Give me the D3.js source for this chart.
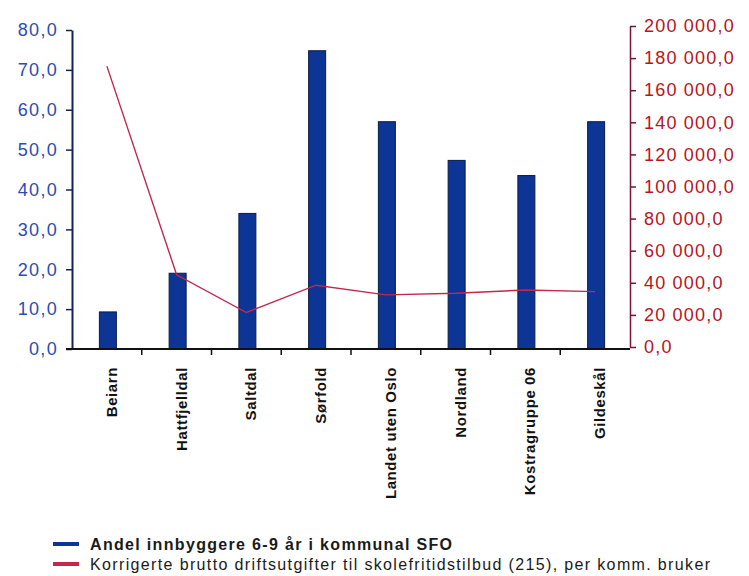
<!DOCTYPE html>
<html><head><meta charset="utf-8">
<script src="https://cdn.jsdelivr.net/npm/d3@7"></script>
<style>body{margin:0;background:#fff}svg{display:block}</style>
</head><body>
<svg id="c" width="749" height="576"></svg>
<script>
const categories = ["Beiarn","Hattfjelldal","Saltdal","Sørfold","Landet uten Oslo","Nordland","Kostragruppe 06","Gildeskål"];
const sfoShare = [9.3, 19.0, 34.0, 74.8, 57.0, 47.3, 43.5, 57.0];
const costPerUser = [175000, 45000, 21500, 38500, 32500, 33500, 35500, 34500];
const leftTicks = [0,10,20,30,40,50,60,70,80];
const rightTicks = [0,20000,40000,60000,80000,100000,120000,140000,160000,180000,200000];
const legendLabels = ["Andel innbyggere 6-9 år i kommunal SFO","Korrigerte brutto driftsutgifter til skolefritidstilbud (215), per komm. bruker"];

const svg = d3.select("#c");
const L = 72, R = 630, T = 30, B = 349;
const x = d3.scaleBand().domain(categories).range([L, R]);
const yL = d3.scaleLinear().domain([0, 80]).range([B, T]);
const yR = d3.scaleLinear().domain([0, 200000]).range([B - 2, 26]);
const fmtL = d => d3.format(".1f")(d).replace(".", ",");
const fmtR = d => d3.format(",.1f")(d).replace(/,/g, " ").replace(".", ",");
const font = "Arial, 'Liberation Sans', sans-serif";

// bars
const bw = 17;
svg.append("g").selectAll("rect").data(categories).join("rect")
  .attr("x", d => x(d) + x.bandwidth()/2 - bw/2 + 1)
  .attr("y", (d,i) => yL(sfoShare[i]))
  .attr("width", bw)
  .attr("height", (d,i) => B - yL(sfoShare[i]))
  .attr("fill", "#0c3596").attr("stroke", "#0a1c4a").attr("stroke-width", 1);

// line
const line = d3.line().x((d,i) => x(categories[i]) + x.bandwidth()/2).y(d => yR(d));
svg.append("path").datum(costPerUser).attr("d", line)
  .attr("fill", "none").attr("stroke", "#c4284a").attr("stroke-width", 1.4);

// left axis
const gl = svg.append("g").attr("transform", `translate(${L},0)`)
  .call(d3.axisLeft(yL).tickValues(leftTicks).tickFormat(fmtL).tickSize(6).tickSizeOuter(0));
gl.select(".domain").attr("stroke", "#14225a").attr("stroke-width", 2);
gl.selectAll(".tick line").attr("stroke", "#14225a").attr("stroke-width", 1.5);
gl.selectAll("text").attr("fill", "#2c4cb4").attr("font-family", font)
  .attr("font-size", 18).attr("letter-spacing", 1.3).attr("x", -14);

// right axis
const gr = svg.append("g").attr("transform", `translate(${R},0)`)
  .call(d3.axisRight(yR).tickValues(rightTicks).tickFormat(fmtR).tickSize(6).tickSizeOuter(0));
gr.select(".domain").attr("stroke", "#7a1430").attr("stroke-width", 1.5);
gr.selectAll(".tick line").attr("stroke", "#7a1430").attr("stroke-width", 1.5);
gr.selectAll("text").attr("fill", "#b8141c").attr("font-family", font)
  .attr("font-size", 18).attr("letter-spacing", 1.2).attr("x", 14);

// x axis
const gx = svg.append("g").attr("transform", `translate(0,${B})`);
gx.append("line").attr("x1", L - 6).attr("x2", R).attr("stroke", "#111").attr("stroke-width", 2);
gx.selectAll("line.t").data(categories.slice(1)).join("line").attr("class","t")
  .attr("x1", d => x(d)).attr("x2", d => x(d)).attr("y1", 0).attr("y2", 6)
  .attr("stroke", "#111").attr("stroke-width", 1.5);
gx.selectAll("text").data(categories).join("text")
  .attr("transform", d => `translate(${x(d) + x.bandwidth()/2 + 10},18) rotate(-90)`)
  .attr("text-anchor", "end")
  .attr("font-family", font).attr("font-weight", "bold")
  .attr("font-size", 15).attr("fill", "#111").attr("letter-spacing", 0.6)
  .text(d => d);

// legend
const colors = ["#0c3596", "#c4284a"];
const legendWidths = [362, 620];
const lg = svg.append("g");
legendLabels.forEach((t, i) => {
  const yy = 544 + i * 20;
  lg.append("line").attr("x1", 53).attr("x2", 79).attr("y1", yy).attr("y2", yy)
    .attr("stroke", colors[i]).attr("stroke-width", 4);
  lg.append("text").attr("x", 90).attr("y", yy + 5.5).text(t)
    .attr("font-family", font).attr("font-size", 16)
    .attr("font-weight", i === 0 ? "bold" : "normal")
    .attr("textLength", legendWidths[i]).attr("lengthAdjust", "spacing")
    .attr("fill", "#1a1a1a");
});
</script>
</body></html>
